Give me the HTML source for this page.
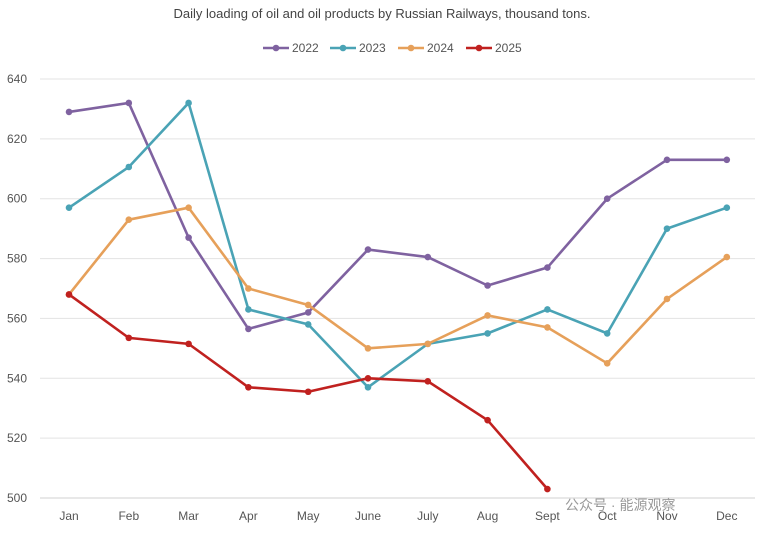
<!DOCTYPE html>
<html><head><meta charset="utf-8"><style>
body{margin:0;background:#fff;font-family:"Liberation Sans","Noto Sans CJK SC",sans-serif}
svg text{font-family:"Liberation Sans","Noto Sans CJK SC",sans-serif}
</style></head><body>
<svg id="c" width="765" height="535">
<text x="382" y="18" text-anchor="middle" font-size="13" fill="#444">Daily loading of oil and oil products by Russian Railways, thousand tons.</text>
<g id="grid"></g><g id="series"></g><g id="legend"></g>
<text x="565" y="510" font-size="14" fill="#999">公众号 · 能源观察</text>
</svg>
<script>
const months=["Jan","Feb","Mar","Apr","May","June","July","Aug","Sept","Oct","Nov","Dec"];
const yTicks=[500,520,540,560,580,600,620,640];
const years=["2022","2023","2024","2025"];
const colors=["#7f62a0","#4aa3b5","#e6a05a","#c0211f"];
const s2022=[629,632,587,556.5,562,583,580.5,571,577,600,613,613];
const s2023=[597,610.6,632,563,558,537,551.5,555,563,555,590,597];
const s2024=[568,593,597,570,564.5,550,551.5,561,557,545,566.5,580.5];
const s2025=[568,553.5,551.5,537,535.5,540,539,526,503];
const series=[s2022,s2023,s2024,s2025];
const NS="http://www.w3.org/2000/svg";
const x=i=>69+i*59.8;
const y=v=>498-(v-500)*(419/140);
function mk(t,a,p){const e=document.createElementNS(NS,t);for(const k in a)e.setAttribute(k,a[k]);p.appendChild(e);return e;}
const grid=document.getElementById('grid');
yTicks.forEach(t=>{
 const l=mk('line',{x1:40,x2:755,y1:y(t),y2:y(t),stroke:t===500?'#d0d0d0':'#e3e3e3','stroke-width':1},grid);
 
 
 const tx=mk('text',{x:27,y:y(t)+4,'text-anchor':'end','font-size':12,fill:'#555'},grid);tx.textContent=t;
 
 
});
months.forEach((m,i)=>{
 const tx=mk('text',{x:x(i),y:520,'text-anchor':'middle','font-size':12,fill:'#555'},grid);tx.textContent=m;
 
 
});
const sg=document.getElementById('series');
series.forEach((s,k)=>{
 const pl=mk('polyline',{points:s.map((v,i)=>x(i)+','+y(v)).join(' '),fill:'none',stroke:colors[k],'stroke-width':2.6,'stroke-linejoin':'round'},sg);
 
 
 s.forEach((v,i)=>{const c=mk('circle',{cx:x(i),cy:y(v),r:3.3,fill:colors[k]},sg);
  
  });
});
const lg=document.getElementById('legend');
const lx=[263,330,398,466];
years.forEach((yr,k)=>{
 const g=mk('g',{},lg);
 
 
 mk('line',{x1:lx[k],x2:lx[k]+26,y1:48,y2:48,stroke:colors[k],'stroke-width':2.6},g);
 mk('circle',{cx:lx[k]+13,cy:48,r:3.3,fill:colors[k]},g);
 const t=mk('text',{x:lx[k]+29,y:52,'font-size':12,fill:'#555'},g);t.textContent=yr;
});
</script>
</body></html>
